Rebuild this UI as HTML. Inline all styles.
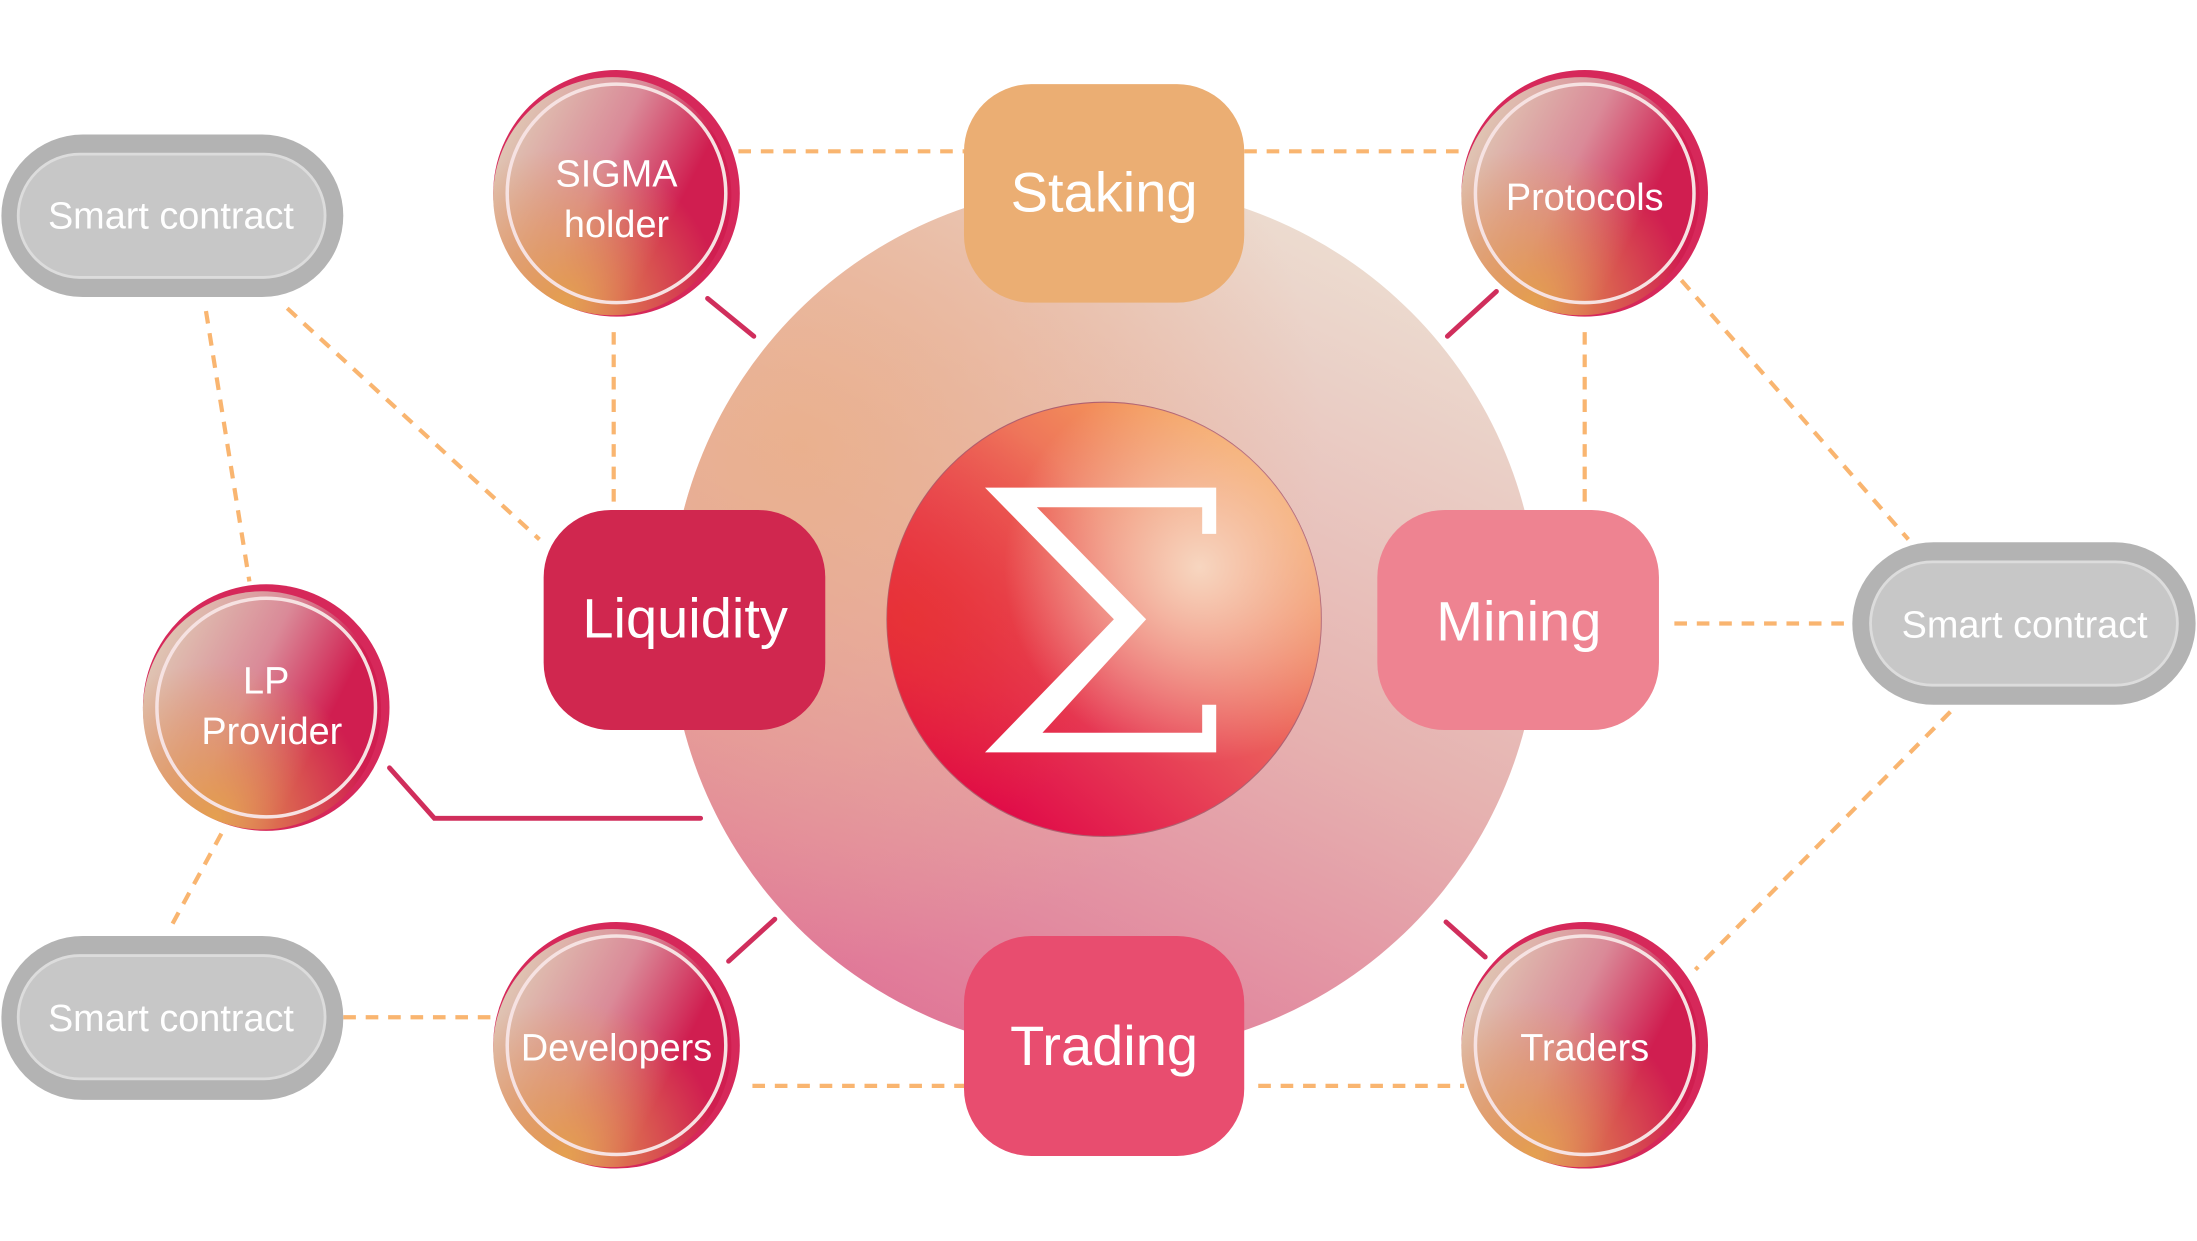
<!DOCTYPE html>
<html><head><meta charset="utf-8"><style>
html,body{margin:0;padding:0;background:#fff;}
svg{display:block;}
text{font-family:"Liberation Sans",sans-serif;fill:#fff;text-anchor:middle;}
</style></head><body>
<svg width="2197" height="1241" viewBox="0 0 1568 885.7" xmlns="http://www.w3.org/2000/svg">
<defs>
<linearGradient id="big" x1="0.75" y1="0.05" x2="0.3" y2="1">
<stop offset="0" stop-color="#ecdcd0"/><stop offset="0.5" stop-color="#e6b2b0"/><stop offset="1" stop-color="#e07496"/>
</linearGradient>
<radialGradient id="bigo" cx="0.15" cy="0.3" r="0.6">
<stop offset="0" stop-color="#eab08a" stop-opacity="0.9"/><stop offset="1" stop-color="#eab08a" stop-opacity="0"/>
</radialGradient>
<linearGradient id="core" x1="0.2" y1="0.9" x2="0.85" y2="0.15">
<stop offset="0" stop-color="#e00a48"/><stop offset="0.45" stop-color="#e9505a"/><stop offset="1" stop-color="#f5a25a"/>
</linearGradient>
<radialGradient id="coreh" cx="0.72" cy="0.38" r="0.45">
<stop offset="0" stop-color="#f7d6c0" stop-opacity="1"/><stop offset="1" stop-color="#f7d6c0" stop-opacity="0"/>
</radialGradient>
<radialGradient id="corel" cx="0.05" cy="0.5" r="0.5">
<stop offset="0" stop-color="#e83530" stop-opacity="0.8"/><stop offset="1" stop-color="#e83530" stop-opacity="0"/>
</radialGradient>
<linearGradient id="sm" x1="0.1" y1="0.2" x2="0.9" y2="0.6">
<stop offset="0" stop-color="#dfc3b2"/><stop offset="0.45" stop-color="#da8a98"/><stop offset="0.85" stop-color="#d01e50"/>
</linearGradient>
<radialGradient id="smo" cx="0.3" cy="0.95" r="0.65">
<stop offset="0" stop-color="#e4a050"/><stop offset="1" stop-color="#e4a050" stop-opacity="0"/>
</radialGradient>
</defs>

<g stroke="#f9b570" stroke-width="3" stroke-dasharray="9,7" fill="none">
<line x1="527" y1="108" x2="688" y2="108"/>
<line x1="888" y1="108" x2="1045" y2="108"/>
<line x1="438" y1="237" x2="438" y2="362"/>
<line x1="1131" y1="237" x2="1131" y2="362"/>
<line x1="1195" y1="445" x2="1322" y2="445"/>
<line x1="1200" y1="200" x2="1362" y2="385"/>
<line x1="1392" y1="508" x2="1210" y2="692"/>
<line x1="898" y1="775" x2="1045" y2="775"/>
<line x1="537" y1="775" x2="688" y2="775"/>
<line x1="245" y1="726" x2="352" y2="726"/>
<line x1="158" y1="595" x2="120" y2="665"/>
<line x1="147" y1="222" x2="178" y2="415"/>
<line x1="205" y1="220" x2="385" y2="385"/>
</g>

<circle cx="788" cy="442" r="310" fill="url(#big)"/>
<circle cx="788" cy="442" r="310" fill="url(#bigo)"/>

<g stroke="#d02e5c" stroke-width="3.5" fill="none" stroke-linecap="round">
<line x1="505" y1="213" x2="538" y2="240"/>
<line x1="1068" y1="208" x2="1033" y2="240"/>
<line x1="553" y1="656" x2="520" y2="686"/>
<line x1="1032" y1="658" x2="1060" y2="683"/>
<polyline points="278,548 310,584 500,584"/>
</g>

<circle cx="788" cy="442" r="155" fill="url(#core)" stroke="#b06070" stroke-width="0.8"/>
<circle cx="788" cy="442" r="155" fill="url(#corel)"/>
<circle cx="788" cy="442" r="155" fill="url(#coreh)"/>
<polygon fill="#fff" points="703,348 868,348 868,381 858,381 858,362 740,362 818,442 744,523 858,523 858,503 868,503 868,537 703,537 795,442"/>

<rect x="688" y="60" width="200" height="156" rx="48" fill="#ebae73"/>
<text x="788" y="151" font-size="40">Staking</text>
<rect x="388" y="364" width="201" height="157" rx="48" fill="#d0274f"/>
<text x="489" y="455" font-size="40">Liquidity</text>
<rect x="983" y="364" width="201" height="157" rx="48" fill="#ee8391"/>
<text x="1084" y="457" font-size="40">Mining</text>
<rect x="688" y="668" width="200" height="157" rx="48" fill="#e84d6f"/>
<text x="788" y="760" font-size="40">Trading</text>

<g>
<rect x="1" y="96" width="244" height="116" rx="58" fill="#b3b3b3"/>
<rect x="13" y="110" width="219" height="88" rx="44" fill="#c7c7c7" stroke="#dcdcdc" stroke-width="2"/>
<text x="122" y="163" font-size="27">Smart contract</text>
<rect x="1322" y="387" width="245" height="116" rx="58" fill="#b3b3b3"/>
<rect x="1335" y="401" width="219" height="88" rx="44" fill="#c7c7c7" stroke="#dcdcdc" stroke-width="2"/>
<text x="1445" y="455" font-size="27">Smart contract</text>
<rect x="1" y="668" width="244" height="117" rx="58" fill="#b3b3b3"/>
<rect x="13" y="682" width="219" height="88" rx="44" fill="#c7c7c7" stroke="#dcdcdc" stroke-width="2"/>
<text x="122" y="736" font-size="27">Smart contract</text>
</g>

<g>
<g transform="translate(440,138)">
<circle r="88" fill="#d6285a"/><circle cx="-3" cy="2" r="85" fill="url(#sm)"/><circle cx="-3" cy="2" r="85" fill="url(#smo)"/>
<circle r="78" fill="none" stroke="#f6e2e2" stroke-width="2.5"/>
</g>
<text x="440" y="133" font-size="27">SIGMA</text><text x="440" y="169" font-size="27">holder</text>

<g transform="translate(1131,138)">
<circle r="88" fill="#d6285a"/><circle cx="-3" cy="2" r="85" fill="url(#sm)"/><circle cx="-3" cy="2" r="85" fill="url(#smo)"/>
<circle r="78" fill="none" stroke="#f6e2e2" stroke-width="2.5"/>
</g>
<text x="1131" y="150" font-size="27">Protocols</text>

<g transform="translate(190,505)">
<circle r="88" fill="#d6285a"/><circle cx="-3" cy="2" r="85" fill="url(#sm)"/><circle cx="-3" cy="2" r="85" fill="url(#smo)"/>
<circle r="78" fill="none" stroke="#f6e2e2" stroke-width="2.5"/>
</g>
<text x="190" y="495" font-size="27">LP</text><text x="194" y="531" font-size="27">Provider</text>

<g transform="translate(440,746)">
<circle r="88" fill="#d6285a"/><circle cx="-3" cy="2" r="85" fill="url(#sm)"/><circle cx="-3" cy="2" r="85" fill="url(#smo)"/>
<circle r="78" fill="none" stroke="#f6e2e2" stroke-width="2.5"/>
</g>
<text x="440" y="757" font-size="27">Developers</text>

<g transform="translate(1131,746)">
<circle r="88" fill="#d6285a"/><circle cx="-3" cy="2" r="85" fill="url(#sm)"/><circle cx="-3" cy="2" r="85" fill="url(#smo)"/>
<circle r="78" fill="none" stroke="#f6e2e2" stroke-width="2.5"/>
</g>
<text x="1131" y="757" font-size="27">Traders</text>
</g>
</svg>
</body></html>
